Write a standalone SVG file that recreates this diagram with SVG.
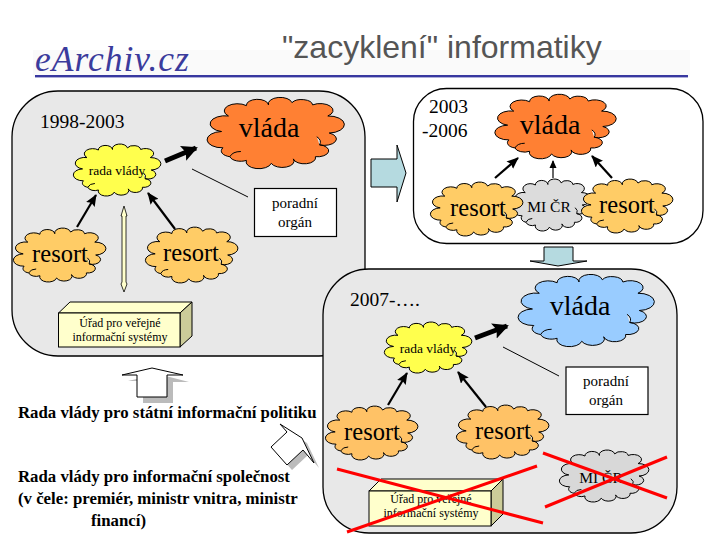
<svg xmlns="http://www.w3.org/2000/svg" xmlns:xlink="http://www.w3.org/1999/xlink" width="720" height="540" viewBox="0 0 720 540">
<style>
text{font-family:"Liberation Serif","Times New Roman",serif;fill:#000}
.panel{stroke:#000;stroke-width:1.3}
.g{fill:#e8e8e8}
.cl{stroke:#000;stroke-width:1}
.m{text-anchor:middle}
.big{font-size:24.500px}
.vl{font-size:28px}
.yr{font-size:19.500px}
.sm{font-size:12px}
.rv{font-size:13.500px}
.mid{font-size:15px}
.mi{font-size:15.500px}
.b{font-size:16.800px;font-weight:bold;stroke:none}
.ar{stroke:#000;stroke-width:2.2;fill:none;marker-end:url(#h)}
.ar2{stroke:#000;stroke-width:1.2;fill:none;marker-end:url(#hs)}
.th{stroke:#000;stroke-width:5;fill:none;marker-end:url(#ht)}
.ln{stroke:#000;stroke-width:1;fill:none}
.x{stroke:#ff0000;stroke-width:3;fill:none}
.box{fill:#fff;stroke:#000;stroke-width:1.2}
.bf{fill:#ffffcc;stroke:#000;stroke-width:1}
.bs{fill:#cccc99;stroke:#000;stroke-width:1}
</style>
<defs>
<marker id="h" markerUnits="userSpaceOnUse" markerWidth="12" markerHeight="10" refX="11" refY="5" orient="auto"><path d="M0,0L12,5L0,10L2,5Z" fill="#000"/></marker>
<marker id="hs" markerUnits="userSpaceOnUse" markerWidth="8" markerHeight="8" refX="7" refY="4" orient="auto"><path d="M0,0.500L8,4L0,7.500Z" fill="#000"/></marker>
<marker id="ht" markerUnits="userSpaceOnUse" markerWidth="18" markerHeight="18" refX="14" refY="9" orient="auto"><path d="M0,1L16,9L0,17L3,9Z" fill="#000"/></marker>
<path id="cloud" vector-effect="non-scaling-stroke" d="M13,70A8,8 0 0 1 12,48A8,8 0 0 1 17,27A8,8 0 0 1 30,13A8,8 0 0 1 46,12A8,8 0 0 1 63,9A8,8 0 0 1 78,12A8,8 0 0 1 89,27A8,8 0 0 1 90,50A8,8 0 0 1 83,66A8,8 0 0 1 80,82A8,8 0 0 1 64,85A8,8 0 0 1 48,91A8,8 0 0 1 30,87A8,8 0 0 1 18,82A8,8 0 0 1 13,70ZM83,66Q85,60 81,55M18,82Q20,75 26,75"/>
</defs>

<rect x="33" y="50" width="657" height="27" fill="#fafafa"/>
<g id="logo">
<text x="35" y="71" font-size="35.500" font-style="italic" letter-spacing="1" style="fill:#3b3b9c">eArchiv.cz</text>
<rect x="35" y="75" width="653" height="2.400" fill="#3838a0"/>
</g>
<text id="title" x="282" y="58" style="font-family:'Liberation Sans',Arial,sans-serif;font-size:32px;fill:#555">"zacyklení" informatiky</text>

<rect id="panel1" class="panel g" x="12" y="91" width="353" height="265" rx="46" ry="46"/>
<rect id="panel2" class="panel" fill="#fff" x="413.500" y="88.500" width="289.500" height="155" rx="33" ry="33"/>

<g id="arrow-right"><path d="M371,159H397L397,145L406,173L397,202V187H371Z" fill="#b5dae0" stroke="#000"/></g>
<g id="arrow-down"><path d="M544,247H573V261H587L558,266L530,261H544Z" fill="#b5dae0" stroke="#000"/></g>

<rect id="panel3" class="panel g" x="323" y="269" width="354" height="264" rx="46" ry="46"/>

<g id="up-arrow">
<path d="M143,403V381H128L158,374L189,382H173V403Z" fill="#bbb"/>
<path d="M137,397V375H122L152,368L183,375H167V397Z" fill="#fff" stroke="#000"/>
</g>
<g id="tilt-arrow">
<path d="M285,429L292,437L276,452L292,470L308,455L319,468L307,443Z" fill="#bbb"/>
<path d="M280,424L287,432L271,447L287,465L303,450L314,463L302,438Z" fill="#fff" stroke="#000"/>
</g>

<g id="connectors">
<path class="th" d="M165,161L196,148"/>
<path class="ar" d="M77,227L96,195"/>
<path class="ar" d="M175,229L148,193"/>
<path class="ln" d="M192,169L248,197"/>
<path d="M124,206L127,216H126V282L127,284L124,292L121,284L122,282V216H121Z" fill="#ffffcc" stroke="#000" stroke-width="0.800"/>
<path class="ar" d="M495,178L518,158"/>
<path class="ar2" d="M553,178V161"/>
<path class="ar" d="M612,178L592,156"/>
<path class="th" d="M475,338L507,326"/>
<path class="ar" d="M388,405L407,373"/>
<path class="ar" d="M486,407L458,372"/>
<path class="ln" d="M503,347L559,376"/>
</g>

<g id="vlada1"><use href="#cloud" class="cl" fill="#ff8033" transform="translate(205,96) scale(1.38,.74)"/><text class="vl m" x="269" y="137">vláda</text></g>
<g id="rada1"><use href="#cloud" class="cl" fill="#ffff4d" transform="translate(72,143) scale(.88,.54)"/><text class="rv m" x="117" y="175">rada vlády</text></g>
<g id="resort1"><use href="#cloud" class="cl" fill="#ffcc66" transform="translate(12,227) scale(.93,.56)"/><text class="big m" x="60" y="262">resort</text></g>
<g id="resort2"><use href="#cloud" class="cl" fill="#ffcc66" transform="translate(144,226) scale(.93,.58)"/><text class="big m" x="191" y="261">resort</text></g>
<text class="yr" x="40" y="128">1998-2003</text>
<g id="poradni1"><rect class="box" x="254.500" y="188.500" width="82" height="48"/><text class="mid m" x="295" y="208">poradní</text><text class="mid m" x="295" y="227">orgán</text></g>
<g id="urad1">
<path class="bf" d="M58.500,313L70,302H192L180,313Z"/><path class="bs" d="M180,313L192,302V336L180,347Z"/><rect class="bf" x="58.500" y="313" width="121.500" height="34"/>
<text class="sm m" x="120" y="327">Úřad pro veřejné</text><text class="sm m" x="120" y="341">informační systémy</text>
</g>

<g id="vlada2"><use href="#cloud" class="cl" fill="#ff8033" transform="translate(493,93) scale(1.22,.67)"/><text class="vl m" x="550" y="134">vláda</text></g>
<g id="mi1"><use href="#cloud" class="cl" fill="#dcdcdc" transform="translate(512,178) scale(.78,.54)"/><text class="mi m" x="549" y="212">MI ČR</text></g>
<g id="resort3"><use href="#cloud" class="cl" fill="#ffcc66" transform="translate(429,181) scale(.93,.56)"/><text class="big m" x="478" y="216">resort</text></g>
<g id="resort4"><use href="#cloud" class="cl" fill="#ffcc66" transform="translate(580,178) scale(.92,.56)"/><text class="big m" x="627" y="213">resort</text></g>
<text class="yr" x="429" y="113">2003</text><text class="yr" x="422" y="137">-2006</text>

<g id="vlada3"><use href="#cloud" class="cl" fill="#99ccff" transform="translate(516,273) scale(1.37,.75)"/><text class="vl m" x="580" y="315">vláda</text></g>
<g id="rada3"><use href="#cloud" class="cl" fill="#ffff4d" transform="translate(383,321) scale(.88,.53)"/><text class="rv m" x="428" y="353">rada vlády</text></g>
<g id="resort5"><use href="#cloud" class="cl" fill="#ffc266" transform="translate(324,405) scale(.93,.56)"/><text class="big m" x="372" y="440">resort</text></g>
<g id="resort6"><use href="#cloud" class="cl" fill="#ffc266" transform="translate(455,404) scale(.93,.56)"/><text class="big m" x="503" y="439">resort</text></g>
<text class="yr" x="350" y="306">2007-….</text>
<g id="poradni3"><rect class="box" x="566" y="367" width="82" height="47.500"/><text class="mid m" x="606" y="386">poradní</text><text class="mid m" x="606" y="405">orgán</text></g>
<g id="mi3"><use href="#cloud" class="cl" fill="#d8d8d8" transform="translate(558,449) scale(.9,.54)"/><text class="mi m" x="601" y="483">MI ČR</text></g>
<g id="urad3">
<path class="bf" d="M369,491L381,479H503L491,491Z"/><path class="bs" d="M491,491L503,479V514L491,526Z"/><rect class="bf" x="369" y="491" width="122" height="35"/>
<text class="sm m" x="431" y="503">Úřad pro veřejné</text><text class="sm m" x="431" y="517">informační systémy</text>
</g>
<g id="crosses">
<path class="x" d="M337,469L543,523"/><path class="x" d="M537,466L347,532"/><path class="x" d="M543,453L667,498"/><path class="x" d="M667,457L545,507"/>
</g>

<g id="labels">
<text class="b" x="18" y="418">Rada vlády pro státní informační politiku</text>
<text class="b" x="18" y="482">Rada vlády pro informační společnost</text>
<text class="b" x="18" y="504">(v čele: premiér, ministr vnitra, ministr</text>
<text class="b" x="91" y="526">financí)</text>
</g>
</svg>
